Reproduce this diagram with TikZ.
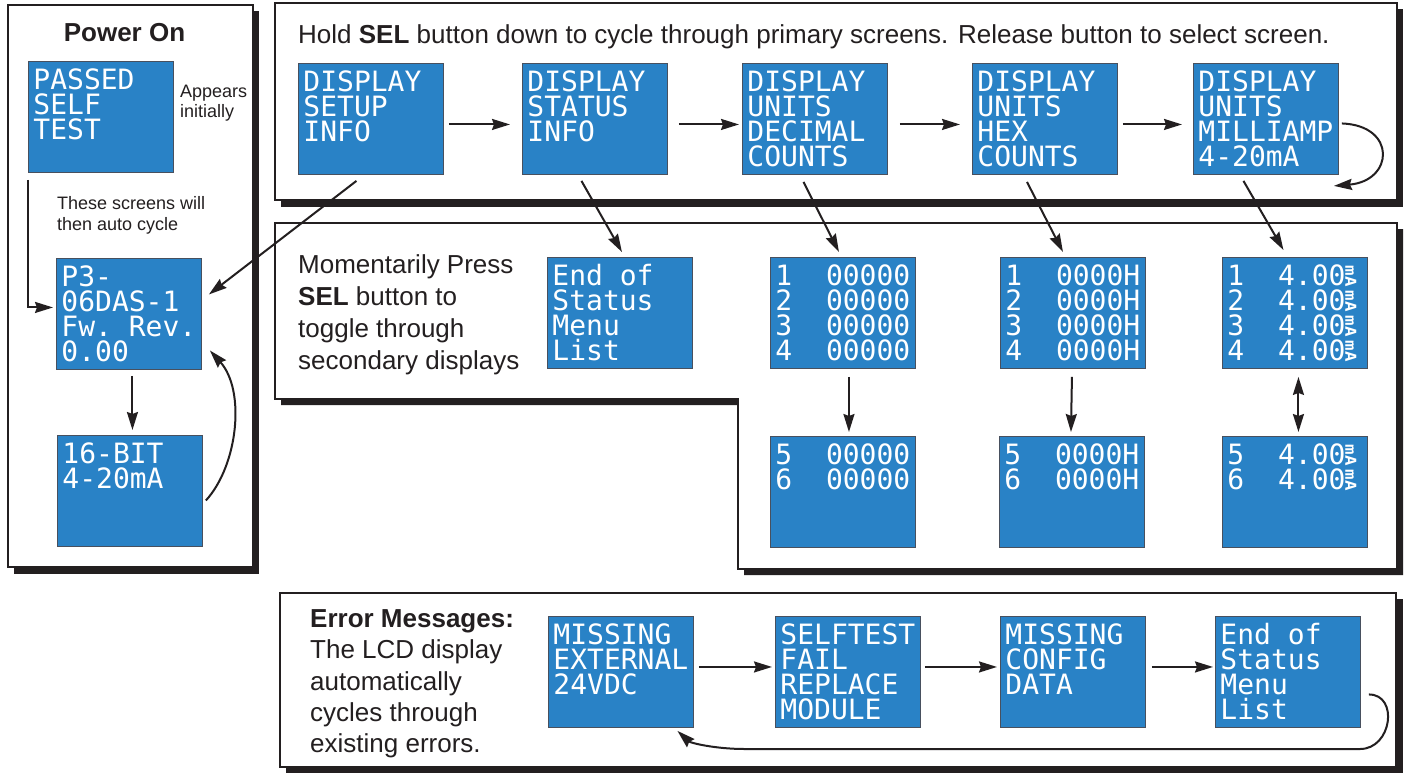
\documentclass[tikz,border=0pt]{standalone}
\usepackage{fontspec}
\usepackage{graphicx}
\setmainfont{Liberation Sans}
\newfontfamily\lcdfont{DejaVu Sans Mono}
\usetikzlibrary{arrows.meta}

\definecolor{ink}{RGB}{35,31,32}
\definecolor{lcdblue}{RGB}{41,130,198}
\definecolor{lcdedge}{RGB}{72,80,94}

% text of one LCD screen, top aligned
\newcommand{\lcdlines}[1]{\parbox[c][111pt][t]{135pt}{\lcdfont\fontsize{28}{25}\selectfont\lineskiplimit=-100pt\rule{0pt}{28.5pt}#1}}
% the small mA sign at the end of a line
\newcommand{\masign}{\raisebox{20pt}{\resizebox*{11pt}{21pt}{\rotatebox{-90}{\bfseries mA}}}}

\tikzset{
  screen/.style={draw=lcdedge, line width=0.9pt, fill=lcdblue, text=white,
    anchor=north west, inner xsep=5pt, inner ysep=0pt,
    minimum width=145pt, minimum height=111pt},
  frame/.style={draw=ink, line width=1.6pt, fill=white},
  shadow/.style={fill=ink},
  txt/.style={text=ink, inner sep=0pt, align=left, font=\fontsize{26}{32}\selectfont},
  smalltxt/.style={text=ink, inner sep=0pt, align=left, font=\fontsize{18}{20.5}\selectfont},
  arr/.style={draw=ink, line width=2pt, -{Stealth[length=18pt,width=11pt,inset=2pt]}},
  twoway/.style={draw=ink, line width=2pt, {Stealth[length=18pt,width=11pt,inset=2pt]}-{Stealth[length=18pt,width=11pt,inset=2pt]}}
}

\begin{document}
\begin{tikzpicture}[x=1pt,y=-1pt]
  \useasboundingbox (0,0) rectangle (1404,772);

  % Panels with their shadows
  \fill[shadow] (14,11) rectangle (259,574);
  \draw[frame] (8,5) rectangle (253,567);
  \fill[shadow] (281,9) rectangle (1403,207);
  \draw[frame] (275,3) rectangle (1397,200);
  \fill[shadow] (281,229) -- (1403,229) -- (1403,575) -- (744,575) -- (744,405) -- (281,405) -- cycle;
  \draw[frame] (275,223) -- (1397,223) -- (1397,569) -- (738,569) -- (738,399) -- (275,399) -- cycle;
  \fill[shadow] (286,599) rectangle (1403,774);
  \draw[frame] (280,593) rectangle (1396,767);

  % Power On
  \node[txt, anchor=base] (poweron) at (124.5,41) {\bfseries Power On};
  \node[screen] (passed) at (28,61) {\lcdlines{PASSED\\SELF\\TEST}};
  \node[smalltxt, anchor=north west] (appears) at (180,84.5) {Appears\\initially};
  \node[smalltxt, anchor=north west] (autocycle) at (57,196.5) {These screens will\\then auto cycle};
  \node[screen] (ptthree) at (56,258) {\lcdlines{P3-\\06DAS-1\\Fw.~Rev.\\0.00}};
  \node[screen] (sixteen) at (57,435) {\lcdlines{16-BIT\\4-20mA}};

  \draw[arr] ([yshift=-7pt]passed.south west) |- ([xshift=-3pt,yshift=6.5pt]ptthree.west);
  \draw[arr] ([xshift=3.5pt,yshift=-6pt]ptthree.south) -- ([xshift=2.5pt,yshift=5pt]sixteen.north);
  \draw[arr] ([xshift=3pt,yshift=-9.5pt]sixteen.east) .. controls +(32,-35) and +(36,40) .. ([xshift=8pt,yshift=-36.5pt]ptthree.east);

  % Primary screens
  \node[txt, anchor=base west] (holdtext) at (298,43) {Hold \textbf{SEL} button down to cycle through primary screens. Release button to select screen.};
  \node[screen] (setup) at (298,63) {\lcdlines{DISPLAY\\SETUP\\INFO}};
  \node[screen] (status) at (522,63) {\lcdlines{DISPLAY\\STATUS\\INFO}};
  \node[screen] (decimal) at (742,63) {\lcdlines{DISPLAY\\UNITS\\DECIMAL\\COUNTS}};
  \node[screen] (hexa) at (972,63) {\lcdlines{DISPLAY\\UNITS\\HEX\\COUNTS}};
  \node[screen] (milliamp) at (1193,63) {\lcdlines{DISPLAY\\UNITS\\MILLIAMP\\4-20mA}};

  \draw[arr, shorten <=5pt, shorten >=12pt] ([yshift=-5.5pt]setup.east) -- ([yshift=-5.5pt]status.west);
  \draw[arr, shorten <=11pt, shorten >=3pt] ([yshift=-5.5pt]status.east) -- ([yshift=-5.5pt]decimal.west);
  \draw[arr, shorten <=12pt, shorten >=12pt] ([yshift=-5.5pt]decimal.east) -- ([yshift=-5.5pt]hexa.west);
  \draw[arr, shorten <=5pt, shorten >=11pt] ([yshift=-5.5pt]hexa.east) -- ([yshift=-5.5pt]milliamp.west);
  \draw[arr] ([xshift=3pt,yshift=-4.5pt]milliamp.east) .. controls +(55,2) and +(60,-5) .. ([xshift=-5pt,yshift=-11pt]milliamp.south east);

  % Secondary screens
  \node[txt, anchor=north west] (presstext) at (298,254.4) {Momentarily Press\\\textbf{SEL} button to\\toggle through\\secondary displays};
  \node[screen] (endof) at (547,257) {\lcdlines{End~of\\Status\\Menu\\List}};
  \node[screen] (decone) at (770,257) {\lcdlines{1~~00000\\2~~00000\\3~~00000\\4~~00000}};
  \node[screen] (hexone) at (1000,257) {\lcdlines{1~~0000H\\2~~0000H\\3~~0000H\\4~~0000H}};
  \node[screen] (maone) at (1222,257) {\lcdlines{1~~4.00\masign\\2~~4.00\masign\\3~~4.00\masign\\4~~4.00\masign}};
  \node[screen] (dectwo) at (770,436) {\lcdlines{5~~00000\\6~~00000}};
  \node[screen] (hextwo) at (999,436) {\lcdlines{5~~0000H\\6~~0000H}};
  \node[screen] (matwo) at (1222,436) {\lcdlines{5~~4.00\masign\\6~~4.00\masign}};

  \draw[arr] ([xshift=-14.5pt,yshift=-6pt]setup.south) -- ([xshift=7pt,yshift=19.5pt]ptthree.east);
  \draw[arr] ([xshift=-13.5pt,yshift=-6pt]status.south) -- ([xshift=2pt,yshift=5pt]endof.north);
  \draw[arr] ([xshift=-11.5pt,yshift=-7pt]decimal.south) -- ([xshift=-4pt,yshift=5pt]decone.north);
  \draw[arr] ([xshift=-18pt,yshift=-7pt]hexa.south) -- ([xshift=-10pt,yshift=5pt]hexone.north);
  \draw[arr] ([xshift=-22.5pt,yshift=-6pt]milliamp.south) -- ([xshift=-11.5pt,yshift=7pt]maone.north);
  \draw[arr] ([xshift=6pt,yshift=-8pt]decone.south) -- ([xshift=6pt,yshift=4pt]dectwo.north);
  \draw[arr] ([xshift=-1pt,yshift=-8pt]hexone.south) -- ([xshift=-1pt,yshift=4pt]hextwo.north);
  \draw[twoway] ([xshift=3.5pt,yshift=-8pt]maone.south) -- ([xshift=3.5pt,yshift=4pt]matwo.north);

  % Error messages
  \node[txt, anchor=north west, font=\fontsize{26}{31.3}\selectfont] (errtext) at (310,609.4) {\textbf{Error Messages:}\\The LCD display\\automatically\\cycles through\\existing errors.};
  \node[screen] (errmiss) at (548,616) {\lcdlines{MISSING\\EXTERNAL\\24VDC}};
  \node[screen] (errself) at (775,616) {\lcdlines{SELFTEST\\FAIL\\REPLACE\\MODULE}};
  \node[screen] (errconfig) at (1000,616) {\lcdlines{MISSING\\CONFIG\\DATA}};
  \node[screen] (errend) at (1215,616) {\lcdlines{End~of\\Status\\Menu\\List}};
  \coordinate (backright) at (1360,749);
  \coordinate (backleft) at (745,749);

  \draw[arr, shorten <=5pt, shorten >=3pt] ([yshift=5pt]errmiss.east) -- ([yshift=5pt]errself.west);
  \draw[arr, shorten <=4pt, shorten >=3pt] ([yshift=5pt]errself.east) -- ([yshift=5pt]errconfig.west);
  \draw[arr, shorten <=6pt, shorten >=2pt] ([yshift=5pt]errconfig.east) -- ([yshift=5pt]errend.west);
  \draw[arr] ([xshift=8pt,yshift=-22.5pt]errend.east) .. controls +(30,0) and +(32,0) .. (backright) -- (backleft) .. controls +(-30,0) and +(13,12) .. ([xshift=56.5pt,yshift=-3pt]errmiss.south);
\end{tikzpicture}
\end{document}
